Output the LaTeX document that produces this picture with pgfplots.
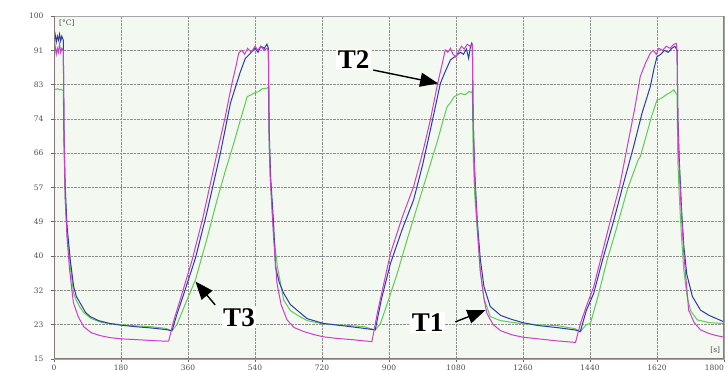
\documentclass[border=0pt]{standalone}
\usepackage{pgfplots}
\pgfplotsset{compat=1.18}
\usepackage{fontspec}
\setmainfont{Liberation Serif}
\newfontfamily\tickfont{DejaVu Serif}
\usetikzlibrary{arrows.meta}
\definecolor{bggreen}{HTML}{F3F8F1}
\definecolor{gridc}{HTML}{8E8E8E}
\definecolor{cT1}{HTML}{CC3FCC}
\definecolor{cT2}{HTML}{2E3BA6}
\definecolor{cT3}{HTML}{5FCC55}
\definecolor{axc}{HTML}{857878}
\begin{document}
\begin{tikzpicture}
\useasboundingbox (0,0) rectangle (728pt,371pt);
\begin{axis}[
  at={(54pt,12pt)}, anchor=south west,
  scale only axis, width=670pt, height=343pt,
  xmin=0, xmax=1800, ymin=15, ymax=100,
  xtick={0,180,...,1800},
  ytick={15,23.5,32,40.5,49,57.5,66,74.5,83,91.5,100},
  yticklabels={15,23,32,40,49,57,66,74,83,91,100},
  xticklabels={0,180,360,540,720,900,1080,1260,1440,1620,\makebox[0pt][r]{1800}},
  grid=major,
  grid style={densely dotted, gridc, line width=0.7pt},
  axis background/.style={fill=bggreen},
  axis line style={draw=gray!70, line width=0.8pt},
  xtick pos=bottom, ytick pos=left,
  tick align=outside, major tick length=3pt,
  tick style={gray!80!black, line width=0.6pt},
  tick label style={font=\tickfont\fontsize{7.5}{9}\selectfont, text=black!70},
  xticklabel style={yshift=1pt},
  yticklabel style={xshift=-4pt},
  /pgf/number format/assume math mode=true,
  clip=true,
]
% T3 green
\addplot[cT3, line width=1pt] coordinates {
(0,82)(5,81.8)(10,82)(15,81.7)(20,81.8)(25,81.5)
(27,68)(30,55)(35,46)(43.8,38)(52.7,31.3)(60,29.5)(70,27.8)(80,26.5)(100,25)(130,24)(180,23.5)(220,23.2)(260,23)(300,22.6)(317,22)
(330,23.5)(350,28)(380,34.6)(410,44.5)(438,54.4)(460,61.5)(483,68.5)(500,74)(519,80)(530,80.5)(540,81)(550,81.3)(560,82)(572,82.1)(576,82.5)
(578,68)(582,58)(590,46)(600,38)(617,29.6)(635,27)(653,25.9)(680,24.5)(724,23.7)(780,23.4)(832,23)(863,22.2)
(877,23.8)(900,30)(922,36.2)(950,45)(984,55.2)(1010,63)(1030,69)(1045,74)(1056,77.5)(1065,78.5)(1075,80)(1092,80.8)(1105,80.5)(1115,81.3)(1122,81)(1124,81.5)
(1126,66)(1130,56)(1137,47)(1145,37)(1155,30)(1172,25.5)(1200,24.5)(1260,23.7)(1300,23.5)(1350,23.3)(1400,22.5)(1414,21.8)
(1430,23.5)(1441,23.8)(1460,30)(1486,39.5)(1510,47)(1540,56.9)(1560,62)(1570,64.5)(1575,65.1)(1590,70)(1605,75)(1620,79.2)(1630,79.5)(1645,80.5)(1655,81)(1665,81.7)(1670,81)(1674,80.5)
(1676,64)(1680,55)(1686,45)(1692,37)(1700,31)(1710,27)(1728,24.7)(1760,24)(1800,23.8)
};
% T2 blue
\addplot[cT2, line width=1pt] coordinates {
(0,94.5)(3,95.5)(6,93.5)(9,95)(12,94)(15,95.5)(18,93.8)(21,95)(25,94)
(27,70)(30,58)(35,48)(43.8,39.5)(52.7,33)(60,30.5)(70.7,28.8)(85,26.5)(97.5,25.5)(120,24.5)(150,23.8)(178,23.4)(220,23)(260,22.7)(300,22.3)(317,22)
(330,26)(350,31.5)(380,40)(410,51)(447,66)(474,78.4)(500,86)(514,89.5)(525,90.5)(540,92)(548,91)(556,92.5)(565,92)(572,93)(576,92)
(578,72)(582,60)(590,48.6)(595,37.9)(605,34)(617,31.3)(635,28.5)(653,27.1)(680,25)(724,23.8)(780,23.2)(832,22.6)(863,22.2)
(880,30)(904,38.7)(935,47)(966,54.4)(990,63)(1011,71.7)(1038,83.3)(1050,86)(1065,89.1)(1078,90)(1092,91)(1100,90.5)(1108,91.8)(1114,89.5)(1118,92)(1122,93.2)(1124,92.5)
(1126,75)(1130,62)(1137,49.4)(1145,40)(1155,33)(1172,28)(1200,25.8)(1230,24.8)(1260,24)(1300,23.3)(1350,22.8)(1400,22.2)(1414,21.8)
(1430,27)(1450,31.3)(1475,40)(1504,49.4)(1530,58.5)(1557,67.6)(1580,76)(1602,82.5)(1612,87)(1620,89.9)(1630,90.5)(1640,91.5)(1650,91)(1660,92)(1668,92.5)(1674,91.5)
(1676,75)(1680,64)(1686,52)(1692,43)(1700,36)(1715,30.5)(1737,27.1)(1760,25.8)(1780,25)(1800,24.2)
};
% T1 magenta
\addplot[cT1, line width=1pt] coordinates {
(0,91.5)(3,92.5)(6,90.5)(9,92)(12,91)(15,93)(18,91)(21,92)(25,91.5)
(27,70)(30,55)(35,45)(42,37)(52,29)(65,25.5)(80,23)(100,21.5)(124,20.8)(150,20.3)(180,20)(220,19.8)(260,19.6)(300,19.4)(308,19.4)
(320,24)(340,30)(371,39.5)(400,50)(438,66)(460,75)(478,83.3)(490,88)(496,90.8)(505,91.5)(512,90.5)(520,92)(530,91)(540,92.5)(548,91.5)(555,92.5)(565,91.5)(572,92)(576,91.5)
(578,70)(581,60)(590,45)(599,33.8)(610,28.5)(626,24.7)(645,22.8)(671,21.8)(700,21)(724,20.5)(760,20.1)(800,19.8)(854,19.3)
(870,27)(904,41.2)(935,50)(966,57.7)(990,66)(1011,74.2)(1030,83)(1045,89)(1051,91.6)(1058,91)(1065,92)(1072,90.5)(1080,89.8)(1088,91.5)(1095,92.5)(1102,91.8)(1110,93)(1118,92.5)(1124,93)
(1126,75)(1130,60)(1137,48)(1145,37)(1155,30)(1163,26.3)(1180,23.5)(1200,22)(1230,21)(1260,20.4)(1300,20)(1350,19.5)(1401,19.1)
(1415,24)(1430,28)(1450,32.9)(1495,49.4)(1520,58)(1540,67.6)(1560,77)(1575,85)(1590,88.5)(1602,90.8)(1610,91.5)(1618,90.5)(1625,92)(1635,91.5)(1645,92.5)(1655,92)(1665,93)(1672,93.2)(1674,91)
(1676,75)(1678,66)(1685,52)(1692,41.2)(1705,27.1)(1720,24)(1737,22.2)(1760,21.3)(1780,20.8)(1800,20.4)
};
% thick left and bottom axis lines
\draw[axc, line width=1.6pt] (rel axis cs:0,0) -- (rel axis cs:0,1);
\draw[axc, line width=1.6pt] (rel axis cs:0,0) -- (rel axis cs:1,0);
\draw[gray, line width=1.4pt] (rel axis cs:1,0) -- (rel axis cs:1,1);
% unit labels
\node[anchor=north west, font=\tickfont\fontsize{7.5}{9}\selectfont, text=black!70, inner sep=1pt] at (rel axis cs:0.006,0.993) {[°C]};
\node[anchor=south east, font=\tickfont\fontsize{7.5}{9}\selectfont, text=black!70, inner sep=1pt] at (rel axis cs:0.996,0.012) {[s]};
% annotations
\node[fill=white, inner sep=1.5pt, font=\bfseries\fontsize{27}{28}\selectfont] (T2) at (axis cs:805,89.2) {T2};
\draw[line width=1.4pt, -{Triangle[length=18pt,width=14pt]}] (axis cs:858,86.6) -- (axis cs:1032,83.3);
\node[fill=white, inner sep=1.5pt, font=\bfseries\fontsize{27}{28}\selectfont] (T3) at (axis cs:497,25.3) {T3};
\draw[line width=1.4pt, -{Triangle[length=18pt,width=14pt]}] (axis cs:433,28.4) -- (axis cs:380,34.2);
\node[fill=white, inner sep=1.5pt, font=\bfseries\fontsize{27}{28}\selectfont] (T1) at (axis cs:1004,24.1) {T1};
\draw[line width=1.4pt, -{Triangle[length=18pt,width=14pt]}] (axis cs:1078,24.2) -- (axis cs:1159,27.1);
\end{axis}
\end{tikzpicture}
\end{document}
